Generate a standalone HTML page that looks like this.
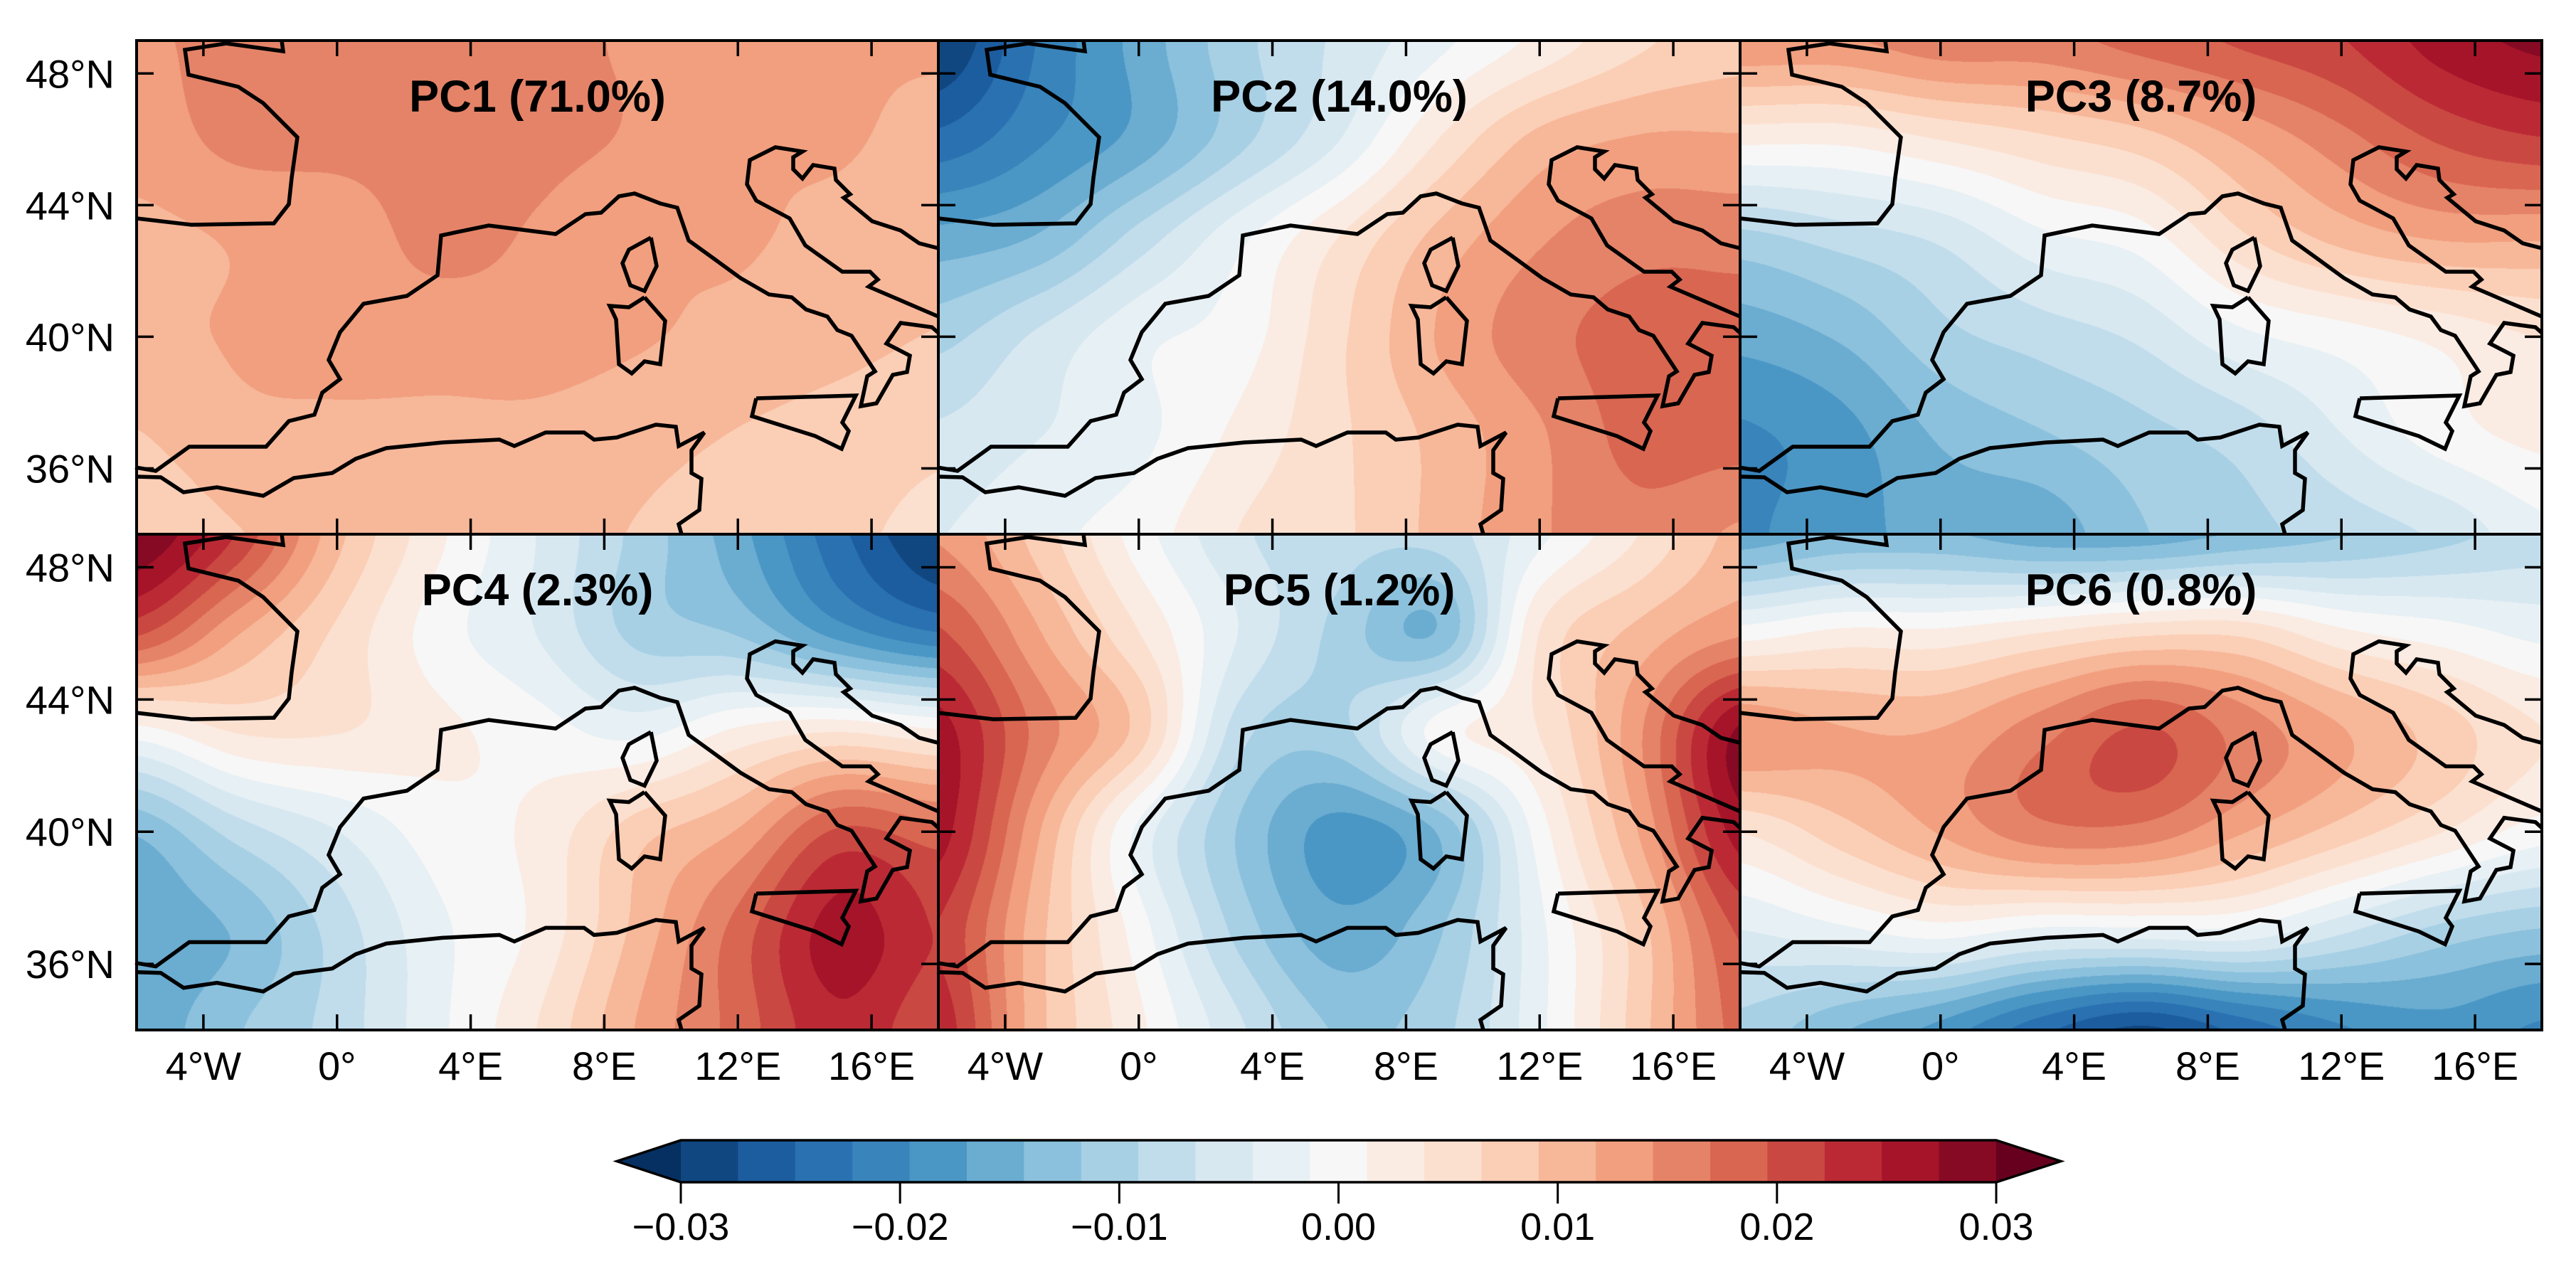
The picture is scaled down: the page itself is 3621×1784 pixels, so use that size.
<!DOCTYPE html>
<html><head><meta charset="utf-8">
<style>
html,body{margin:0;padding:0;background:#fff;}
#root{position:relative;width:3621px;height:1784px;overflow:hidden;background:#fff;font-family:"Liberation Sans",Arial,sans-serif;}
canvas{position:absolute;}
svg{position:absolute;left:0;top:0;}
</style></head>
<body>
<div id="root">
<svg id="ov" width="3621" height="1784"></svg>
</div>
<script>
// ---- data ----
const lons = [-6,-3,0,3,6,9,12,15,18];
const lats = [49,46,43,40,37,34];
const titles = ["PC1 (71.0%)","PC2 (14.0%)","PC3 (8.7%)","PC4 (2.3%)","PC5 (1.2%)","PC6 (0.8%)"];
const pc1 = [
 [.014,.015,.015,.015,.015,.014,.013,.012,.012],
 [.013,.015,.015,.015,.015,.014,.012,.012,.011],
 [.011,.012,.013,.015,.014,.012,.012,.011,.010],
 [.011,.012,.013,.013,.013,.012,.011,.010,.009],
 [.009,.011,.011,.011,.011,.010,.009,.008,.007],
 [.007,.009,.010,.010,.010,.009,.008,.007,.006]];
const pc2 = [
 [-.030,-.022,-.016,-.010,-.006,-.002,.002,.006,.008],
 [-.024,-.020,-.016,-.010,-.004,.004,.010,.012,.012],
 [-.016,-.014,-.008,-.002,.004,.010,.014,.016,.016],
 [-.010,-.006,-.002,.000,.006,.012,.016,.018,.018],
 [-.006,-.004,-.002,.002,.006,.010,.014,.018,.018],
 [-.004,-.002,.000,.004,.006,.010,.014,.016,.014]];
const pc3 = [
 [.014,.014,.016,.016,.018,.020,.022,.026,.028],
 [.002,.002,.004,.006,.008,.012,.016,.020,.022],
 [-.010,-.008,-.006,-.002,.000,.006,.010,.012,.012],
 [-.016,-.014,-.010,-.008,-.006,-.002,.000,.002,.004],
 [-.020,-.018,-.014,-.012,-.010,-.008,-.004,.000,.002],
 [-.020,-.018,-.016,-.016,-.012,-.010,-.008,-.006,-.002]];
const pc4 = [
 [.030,.022,.010,.002,-.004,-.010,-.016,-.024,-.030],
 [.020,.012,.006,.000,-.004,-.010,-.012,-.018,-.022],
 [.000,.004,.004,.002,.000,-.002,.002,.004,.002],
 [-.014,-.008,-.004,.000,.002,.008,.012,.020,.018],
 [-.016,-.014,-.008,-.002,.002,.010,.018,.026,.022],
 [-.016,-.012,-.008,-.002,.004,.012,.018,.024,.020]];
const pc5 = [
 [.014,.008,.000,-.006,-.008,-.008,-.002,.004,.010],
 [.020,.012,.004,-.004,-.010,-.014,.004,.010,.014],
 [.026,.016,.008,-.008,-.010,.000,.004,.014,.028],
 [.026,.012,-.002,-.012,-.018,-.014,.000,.012,.026],
 [.022,.010,.000,-.010,-.016,-.012,-.002,.008,.020],
 [.024,.010,.002,-.006,-.012,-.010,-.002,.008,.018]];
const pc6 = [
 [-.016,-.014,-.014,-.016,-.016,-.014,-.012,-.010,-.008],
 [.000,.002,.002,.004,.006,.006,.002,.000,-.002],
 [.014,.012,.012,.016,.020,.016,.012,.008,.004],
 [.004,.008,.012,.016,.016,.012,.008,.004,.000],
 [-.004,-.002,.000,-.002,-.002,-.002,-.006,-.010,-.012],
 [-.010,-.014,-.018,-.024,-.028,-.024,-.020,-.018,-.020]];
const fields = [pc1,pc2,pc3,pc4,pc5,pc6];
const latTicks = [48,44,40,36];
const latTickLabels = ["48°N","44°N","40°N","36°N"];
const lonTicks = [-4,0,4,8,12,16];
const lonTickLabels = ["4°W","0°","4°E","8°E","12°E","16°E"];
const cbTicks = [-0.03,-0.02,-0.01,0,0.01,0.02,0.03];
const cbTickLabels = ["\u22120.03","\u22120.02","\u22120.01","0.00","0.01","0.02","0.03"];
const vmin=-0.03, vmax=0.03, nBins=23;

// ---- layout ----
const colX=[192,1319,2446], rowY=[57,751], PW=1127, rowH=[694,697];
const LON0=-6,LON1=18,LAT0=49,LAT1=34;
const NS='http://www.w3.org/2000/svg';
const ov=document.getElementById('ov');
const root=document.getElementById('root');

const anchors=["#053061","#2166ac","#4393c3","#92c5de","#d1e5f0","#f7f7f7","#fddbc7","#f4a582","#d6604d","#b2182b","#67001f"];
function hex(h){return [parseInt(h.slice(1,3),16),parseInt(h.slice(3,5),16),parseInt(h.slice(5,7),16)];}
const A=anchors.map(hex);
function cmap(t){t=Math.max(0,Math.min(1,t));const s=t*10,i=Math.min(9,Math.floor(s)),f=s-i;
 return A[i].map((c,k)=>Math.round(c+(A[i+1][k]-c)*f));}
const binColors=[];for(let i=-1;i<=nBins;i++){binColors.push(cmap((i+1)/(nBins+1)));}
function binOf(v){let i=Math.floor((v-vmin)/((vmax-vmin)/nBins));if(i<-1)i=-1;if(i>nBins)i=nBins;return i+1;}
function rgb(c){return 'rgb('+c[0]+','+c[1]+','+c[2]+')';}

function cr(p0,p1,p2,p3,t){return 0.5*((2*p1)+(-p0+p2)*t+(2*p0-5*p1+4*p2-p3)*t*t+(-p0+3*p1-3*p2+p3)*t*t*t);}
function sample(g,lon,lat){
 const fx=(lon-lons[0])/3, fy=(lats[0]-lat)/3;
 const nx=lons.length, ny=lats.length;
 let ix=Math.floor(fx), iy=Math.floor(fy);
 ix=Math.max(0,Math.min(nx-2,ix)); iy=Math.max(0,Math.min(ny-2,iy));
 const tx=fx-ix, ty=fy-iy;
 const cl=(a,n)=>Math.max(0,Math.min(n-1,a));
 const rows=[];
 for(let j=-1;j<=2;j++){const r=g[cl(iy+j,ny)];
  rows.push(cr(r[cl(ix-1,nx)],r[ix],r[cl(ix+1,nx)],r[cl(ix+2,nx)],tx));}
 return cr(rows[0],rows[1],rows[2],rows[3],ty);
}

const coasts=[
 [[192,307],[269,316],[385,314],[406,287],[410,250],[418,193],[370,145],[335,122],[265,105],[260,70],[318,61],[398,72],[396,57]],
 [[190,657],[219,662],[266,628],[374,628],[406,592],[442,583],[453,552],[478,533],[462,506],[478,467],[511,427],[572,416],[615,387],[620,331],[687,317],[781,329],[823,301],[845,299],[870,276],[892,272],[928,286],[952,292],[968,338],[1004,364],[1041,391],[1081,414],[1113,418],[1133,435],[1163,445],[1177,464],[1197,472],[1230,522],[1219,529],[1210,571],[1232,567],[1255,527],[1275,523],[1279,500],[1246,483],[1266,454],[1310,460],[1319,468]],
 [[1319,445],[1221,403],[1234,393],[1223,382],[1184,382],[1132,345],[1110,307],[1063,282],[1050,259],[1054,225],[1090,207],[1128,213],[1115,221],[1115,238],[1128,251],[1143,232],[1173,237],[1175,253],[1195,273],[1186,278],[1226,311],[1266,324],[1292,342],[1319,349]],
 [[915,334],[923,374],[906,409],[886,401],[875,370],[884,351],[915,334]],
 [[906,418],[935,451],[928,512],[906,508],[888,525],[870,512],[866,449],[857,430],[884,432],[906,418]],
 [[1063,560],[1203,556],[1184,594],[1193,606],[1183,631],[1146,613],[1057,585],[1063,560]],
 [[190,670],[226,671],[258,692],[305,685],[370,697],[413,672],[467,665],[500,645],[543,630],[622,622],[702,618],[723,627],[767,608],[821,608],[835,618],[867,615],[922,597],[950,600],[954,627],[990,608],[972,633],[972,665],[986,673],[983,717],[954,737],[958,751]]
];

function mk(tag,attrs,parent){const e=document.createElementNS(NS,tag);for(const k in attrs)e.setAttribute(k,attrs[k]);(parent||ov).appendChild(e);return e;}

for(let p=0;p<6;p++){
 const c=p%3, r=Math.floor(p/3);
 const X=colX[c], Y=rowY[r], H=rowH[r];
 const xOf=lon=>X+(lon-LON0)/(LON1-LON0)*PW;
 const yOf=lat=>Y+(LAT0-lat)/(LAT0-LAT1)*H;
 const cv=document.createElement('canvas');
 cv.width=PW;cv.height=H;cv.style.left=X+'px';cv.style.top=Y+'px';
 
 
 root.insertBefore(cv,ov);
 const ctx=cv.getContext('2d');const im=ctx.createImageData(PW,H);const d=im.data;
 const g=fields[p];
 for(let y=0;y<H;y++){const lat=LAT0-(y+0.5)/H*(LAT0-LAT1);
  for(let x=0;x<PW;x++){const lon=LON0+(x+0.5)/PW*(LON1-LON0);
   const col=binColors[binOf(sample(g,lon,lat))];const o=(y*PW+x)*4;
   d[o]=col[0];d[o+1]=col[1];d[o+2]=col[2];d[o+3]=255;}}
 ctx.putImageData(im,0,0);
 const gp=mk('g',{});
 
 
 const sy=H/694;
 coasts.forEach(line=>{
  const pts=line.map(q=>(q[0]-192+X).toFixed(1)+','+((q[1]-57)*sy+Y).toFixed(1)).join(' ');
  const pl=mk('polyline',{points:pts,fill:'none',stroke:'#000','stroke-width':5.5,'stroke-linejoin':'miter'},gp);
  
  
 });
 const tg=mk('g',{stroke:'#000','stroke-width':3.5});
 
 
 lonTicks.forEach(l=>{const x=xOf(l);
  mk('line',{x1:x,y1:Y,x2:x,y2:Y+22},tg);mk('line',{x1:x,y1:Y+H,x2:x,y2:Y+H-22},tg);});
 latTicks.forEach(l=>{const y=yOf(l);
  mk('line',{x1:X,y1:y,x2:X+24,y2:y},tg);mk('line',{x1:X+PW,y1:y,x2:X+PW-24,y2:y},tg);});
 const fr=mk('rect',{x:X,y:Y,width:PW,height:H,fill:'none',stroke:'#000','stroke-width':4});
 
 
 const t=mk('text',{x:X+PW/2,y:Y+100,'text-anchor':'middle','font-size':63,'font-weight':'bold','font-family':'Liberation Sans, Arial, sans-serif',fill:'#000'});
 t.textContent=titles[p];
 
 
 if(c===0){latTicks.forEach((l,i)=>{const tt=mk('text',{x:161,y:yOf(l)+20,'text-anchor':'end','font-size':56,'font-family':'Liberation Sans, Arial, sans-serif',fill:'#000'});
  tt.textContent=latTickLabels[i];
  
  });}
 if(r===1){lonTicks.forEach((l,i)=>{const tt=mk('text',{x:xOf(l),y:1518,'text-anchor':'middle','font-size':56,'font-family':'Liberation Sans, Arial, sans-serif',fill:'#000'});
  tt.textContent=lonTickLabels[i];
  
  });}
}

const CB={x0:957,x1:2806,y0:1603,y1:1662,tipL:867,tipR:2897};
const cbx=v=>CB.x0+(v-vmin)/(vmax-vmin)*(CB.x1-CB.x0);
const cg=mk('g',{});


const bw=(vmax-vmin)/nBins;
for(let i=0;i<nBins;i++){const a=cbx(vmin+i*bw),b=cbx(vmin+(i+1)*bw);
 const rc=mk('rect',{x:a,y:CB.y0,width:b-a+0.6,height:CB.y1-CB.y0,fill:rgb(binColors[i+1])},cg);
 
 }
const ym=(CB.y0+CB.y1)/2;
const el=mk('polygon',{points:`${CB.x0},${CB.y0} ${CB.tipL},${ym} ${CB.x0},${CB.y1}`,fill:rgb(binColors[0])},cg);


const eh=mk('polygon',{points:`${CB.x1},${CB.y0} ${CB.tipR},${ym} ${CB.x1},${CB.y1}`,fill:rgb(binColors[nBins+1])},cg);


const ol=mk('polygon',{points:`${CB.x0},${CB.y0} ${CB.x1},${CB.y0} ${CB.tipR},${ym} ${CB.x1},${CB.y1} ${CB.x0},${CB.y1} ${CB.tipL},${ym}`,fill:'none',stroke:'#000','stroke-width':3.5},cg);


cbTicks.forEach((v,i)=>{const x=cbx(v);
 const ln=mk('line',{x1:x,y1:CB.y1,x2:x,y2:CB.y1+30,stroke:'#000','stroke-width':3},cg);
 
 
 const tt=mk('text',{x:x,y:1743,'text-anchor':'middle','font-size':54,'font-family':'Liberation Sans, Arial, sans-serif',fill:'#000'},cg);
 tt.textContent=cbTickLabels[i];
 
 
});
</script>
</body></html>
